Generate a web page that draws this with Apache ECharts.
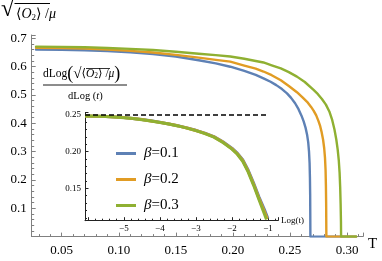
<!DOCTYPE html>
<html><head><meta charset="utf-8">
<script src="https://cdn.jsdelivr.net/npm/echarts@6/dist/echarts.min.js"></script>
<style>html,body{margin:0;padding:0;background:#fff}#c{width:382px;height:261px}</style>
</head><body><div id="c"></div>
<script>
// ---- main plot data: sqrt(<O2>)/mu versus T ----
const T_b1 = [0.0275, 0.05, 0.07, 0.09, 0.11, 0.13, 0.15, 0.17, 0.185, 0.1977, 0.21, 0.22, 0.2268, 0.233, 0.238, 0.243, 0.2474, 0.251, 0.2545, 0.2575, 0.260, 0.2620, 0.2637, 0.2650, 0.2660, 0.2667, 0.2672, 0.2675, 0.2677, 0.2678, 0.2679, 0.308];
const O_b1 = [0.661, 0.660, 0.658, 0.655, 0.651, 0.645, 0.636, 0.623, 0.612, 0.600, 0.585, 0.571, 0.559, 0.547, 0.535, 0.521, 0.506, 0.490, 0.471, 0.450, 0.428, 0.407, 0.384, 0.360, 0.333, 0.300, 0.260, 0.210, 0.150, 0.080, 0, 0];
const T_b2 = [0.0275, 0.05, 0.07, 0.09, 0.11, 0.13, 0.15, 0.17, 0.185, 0.1977, 0.21, 0.22, 0.2268, 0.234, 0.242, 0.249, 0.2561, 0.261, 0.265, 0.2685, 0.2707, 0.273, 0.275, 0.2765, 0.2778, 0.2790, 0.2800, 0.2807, 0.2812, 0.2815, 0.2817, 0.2819, 0.308];
const O_b2 = [0.667, 0.666, 0.664, 0.661, 0.656, 0.650, 0.642, 0.632, 0.624, 0.618, 0.604, 0.593, 0.583, 0.570, 0.552, 0.532, 0.510, 0.492, 0.476, 0.458, 0.445, 0.428, 0.408, 0.390, 0.368, 0.343, 0.312, 0.278, 0.235, 0.180, 0.120, 0, 0];
const T_b3 = [0.0275, 0.05, 0.07, 0.09, 0.11, 0.13, 0.15, 0.17, 0.185, 0.1977, 0.21, 0.22, 0.2268, 0.234, 0.242, 0.249, 0.2561, 0.263, 0.2707, 0.2745, 0.278, 0.2815, 0.2845, 0.2870, 0.2890, 0.2906, 0.2918, 0.2928, 0.2935, 0.2940, 0.2944, 0.2947, 0.2948, 0.308];
const O_b3 = [0.671, 0.670, 0.669, 0.666, 0.663, 0.659, 0.653, 0.646, 0.641, 0.636, 0.628, 0.620, 0.615, 0.605, 0.594, 0.581, 0.565, 0.546, 0.518, 0.503, 0.486, 0.466, 0.442, 0.412, 0.378, 0.343, 0.308, 0.268, 0.225, 0.175, 0.115, 0.050, 0, 0];

// ---- inset data: dLog(...)/dLog(t) versus Log(t) ----
const L_b1 = [-6.08, -5.75, -5.5, -5.25, -5.0, -4.75, -4.5, -4.25, -4.0, -3.75, -3.5, -3.25, -3.0, -2.75, -2.5, -2.25, -2.0, -1.85, -1.7, -1.55, -1.4, -1.25, -1.1, -1.0];
const D_b1 = [0.2487, 0.2483, 0.2480, 0.2473, 0.2465, 0.2453, 0.2438, 0.2420, 0.2400, 0.2378, 0.2353, 0.2324, 0.2291, 0.2253, 0.2206, 0.2136, 0.2048, 0.1980, 0.1890, 0.1750, 0.1575, 0.1385, 0.1215, 0.1090];
const L_b2 = [-6.08, -5.75, -5.5, -5.25, -5.0, -4.75, -4.5, -4.25, -4.0, -3.75, -3.5, -3.25, -3.0, -2.75, -2.5, -2.25, -2.0, -1.85, -1.7, -1.55, -1.4, -1.25, -1.1, -1.02];
const D_b2 = [0.2486, 0.2482, 0.2479, 0.2472, 0.2464, 0.2452, 0.2437, 0.2419, 0.2399, 0.2377, 0.2352, 0.2322, 0.2289, 0.2250, 0.2202, 0.2130, 0.2041, 0.1972, 0.1880, 0.1737, 0.1560, 0.1367, 0.1185, 0.1085];
const L_b3 = [-6.08, -5.75, -5.5, -5.25, -5.0, -4.75, -4.5, -4.25, -4.0, -3.75, -3.5, -3.25, -3.0, -2.75, -2.5, -2.25, -2.0, -1.85, -1.7, -1.55, -1.4, -1.25, -1.1, -1.04];
const D_b3 = [0.2485, 0.2481, 0.2478, 0.2471, 0.2463, 0.2451, 0.2436, 0.2418, 0.2398, 0.2376, 0.2351, 0.2321, 0.2287, 0.2247, 0.2198, 0.2125, 0.2035, 0.1965, 0.1870, 0.1725, 0.1545, 0.1350, 0.1155, 0.1075];
const L_ref = [-6.08, -1.0];
const D_ref = [0.25, 0.25];

const names = ['β=0.1', 'β=0.2', 'β=0.3'];
const colors = ['#5E81B5', '#E19C24', '#8FB032'];

const zip = (a, b) => a.map((v, i) => [v, b[i]]);
const SERIF = '"Liberation Serif", "DejaVu Serif", serif';
const near = (v, s) => Math.abs(v / s - Math.round(v / s)) < 1e-6;

const chart = echarts.init(document.getElementById('c'), null, {renderer: 'canvas'});

const mainAxisColor = '#808080';
const insetAxisColor = '#222';

const mainLine = (i, T, O) => ({name: names[i], type: 'line', xAxisIndex: 0, yAxisIndex: 0, data: zip(T, O),
  showSymbol: false, symbol: 'none',
  lineStyle: {width: 2.4, color: colors[i], join: 'round', cap: 'round'}, itemStyle: {color: colors[i]}, z: 2 + i});
const insetLine = (i, L, D) => ({name: names[i], type: 'line', xAxisIndex: 1, yAxisIndex: 1, data: zip(L, D),
  showSymbol: false, symbol: 'none',
  lineStyle: {width: 3, color: colors[i], join: 'round'}, itemStyle: {color: colors[i]}, z: 2 + i});

const option = {
  animation: false,
  backgroundColor: '#fff',
  grid: [
    {left: 31.7, right: 19, top: 35, bottom: 24.4},
    {left: 85, right: 104, top: 112.7, bottom: 40.3}
  ],
  xAxis: [
    {gridIndex: 0, type: 'value', min: 0.0237, max: 0.314, splitNumber: 6,
     name: 'T', nameLocation: 'end', nameGap: 5,
     nameTextStyle: {fontFamily: SERIF, fontSize: 15, color: '#000', verticalAlign: 'top', align: 'left'},
     axisLine: {lineStyle: {color: mainAxisColor, width: 1}},
     axisTick: {inside: true, length: 4, lineStyle: {color: mainAxisColor}},
     minorTick: {show: true, splitNumber: 5, length: 2.5, lineStyle: {color: mainAxisColor}},
     splitLine: {show: false},
     axisLabel: {fontFamily: SERIF, fontSize: 13, color: '#000', margin: 7,
       formatter: v => near(v, 0.05) ? v.toFixed(2) : ''}},
    {gridIndex: 1, type: 'value', min: -6.08, max: -0.72, splitNumber: 5,
     name: 'Log(t)', nameLocation: 'end', nameGap: 3,
     nameTextStyle: {fontFamily: SERIF, fontSize: 9, color: '#000', verticalAlign: 'middle', padding: [3, 0, 0, 0]},
     axisLine: {lineStyle: {color: insetAxisColor, width: 1}},
     axisTick: {inside: true, length: 3.5, lineStyle: {color: insetAxisColor}},
     minorTick: {show: true, splitNumber: 5, length: 2, lineStyle: {color: insetAxisColor}},
     splitLine: {show: false},
     axisLabel: {fontFamily: SERIF, fontSize: 9, color: '#000', margin: 3,
       formatter: v => (near(v, 1) && v > -5.5) ? '\u2212' + Math.abs(Math.round(v)) : ''}}
  ],
  yAxis: [
    {gridIndex: 0, type: 'value', min: 0, max: 0.712, splitNumber: 7,
     axisLine: {lineStyle: {color: mainAxisColor, width: 1}},
     axisTick: {inside: true, length: 4, lineStyle: {color: mainAxisColor}},
     minorTick: {show: true, splitNumber: 5, length: 2.5, lineStyle: {color: mainAxisColor}},
     splitLine: {show: false},
     axisLabel: {fontFamily: SERIF, fontSize: 13, color: '#000', margin: 5,
       formatter: v => (v > 0.05 && near(v, 0.1)) ? v.toFixed(1) : ''}},
    {gridIndex: 1, type: 'value', min: 0.106, max: 0.2531, splitNumber: 3,
     axisLine: {lineStyle: {color: insetAxisColor, width: 1}},
     axisTick: {inside: true, length: 3.5, lineStyle: {color: insetAxisColor}},
     minorTick: {show: true, splitNumber: 5, length: 2, lineStyle: {color: insetAxisColor}},
     splitLine: {show: false},
     axisLabel: {fontFamily: SERIF, fontSize: 9, color: '#000', margin: 4,
       formatter: v => (v > 0.12 && near(v, 0.05)) ? v.toFixed(2) : ''}}
  ],
  legend: {
    orient: 'vertical', left: 111, top: 141, itemWidth: 20, itemHeight: 3, itemGap: 11,
    icon: 'rect', data: names,
    formatter: n => '{b|β}{n|' + n.slice(1) + '}',
    textStyle: {padding: [0, 0, 0, 3], rich: {
      b: {fontFamily: SERIF, fontStyle: 'italic', fontSize: 15, color: '#000', lineHeight: 16},
      n: {fontFamily: SERIF, fontSize: 15, color: '#000', lineHeight: 16}
    }}
  },
  series: [
    mainLine(0, T_b1, O_b1),
    mainLine(1, T_b2, O_b2),
    mainLine(2, T_b3, O_b3),
    insetLine(0, L_b1, D_b1),
    insetLine(1, L_b2, D_b2),
    insetLine(2, L_b3, D_b3),
    {name: 'ref', type: 'line', xAxisIndex: 1, yAxisIndex: 1, data: zip(L_ref, D_ref), showSymbol: false, symbol: 'none', lineStyle: {width: 1.6, color: '#000', type: [5, 3]}, z: 5}
  ],
  graphic: [
    // main y-axis title: sqrt(<O2>)/mu
    {type: 'text', left: 1, top: -2, style: {text: '√', font: '24px ' + SERIF, fill: '#000'}},
    {type: 'line', shape: {x1: 14.5, y1: 3.5, x2: 50, y2: 3.5}, style: {stroke: '#000', lineWidth: 1.1}},
    {type: 'text', left: 16, top: 7, style: {
      text: '{a|⟨}{i|O}{s|2}{a|⟩ /}{i|μ}',
      rich: {
        a: {fontFamily: SERIF, fontSize: 14, fill: '#000', lineHeight: 16},
        i: {fontFamily: SERIF, fontStyle: 'italic', fontSize: 14, fill: '#000', lineHeight: 16},
        s: {fontFamily: SERIF, fontSize: 9, fill: '#000', lineHeight: 16, padding: [6, 0, 0, 0]}
      }}},
    // inset y title: dLog(sqrt(<O2>)/mu) / dLog(t)
    {type: 'text', left: 43, top: 65, style: {
      text: '{a|dLog}{p|(}{r|√}{a|⟨}{i|O}{s|2}{a|⟩ /}{i|μ}{p|)}',
      rich: {
        a: {fontFamily: SERIF, fontSize: 11.5, fill: '#000', lineHeight: 19},
        i: {fontFamily: SERIF, fontStyle: 'italic', fontSize: 11.5, fill: '#000', lineHeight: 19},
        s: {fontFamily: SERIF, fontSize: 7.5, fill: '#000', lineHeight: 19, padding: [4, 0, 0, 0]},
        p: {fontFamily: SERIF, fontSize: 18, fill: '#000', lineHeight: 19},
        r: {fontFamily: SERIF, fontSize: 15, fill: '#000', lineHeight: 19}
      }}},
    {type: 'line', shape: {x1: 86, y1: 68.5, x2: 110, y2: 68.5}, style: {stroke: '#000', lineWidth: 0.8}},
    {type: 'line', shape: {x1: 43, y1: 85, x2: 127, y2: 85}, style: {stroke: '#000', lineWidth: 0.9}},
    {type: 'text', left: 68, top: 91, style: {
      text: '{a|dLog (}{i|t}{a|)}',
      rich: {
        a: {fontFamily: SERIF, fontSize: 10.5, fill: '#000', lineHeight: 12},
        i: {fontFamily: SERIF, fontStyle: 'italic', fontSize: 10.5, fill: '#000', lineHeight: 12}
      }}}
  ]
};
chart.setOption(option);
</script></body></html>
